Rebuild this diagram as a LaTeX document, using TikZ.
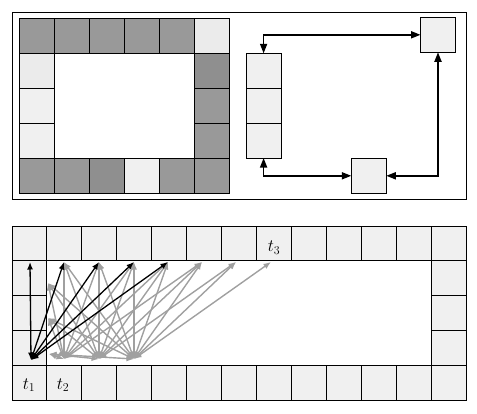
\documentclass[tikz,border=0pt]{standalone}
\usetikzlibrary{arrows.meta}
\definecolor{gA}{RGB}{153,153,153}
\definecolor{gB}{RGB}{143,143,143}
\definecolor{lA}{RGB}{235,235,235}
\definecolor{lB}{RGB}{240,240,240}
\definecolor{arrgray}{RGB}{160,160,160}
\begin{document}
\begin{tikzpicture}[x=1pt,y=-1pt,
  cell/.style={draw=black, line width=0.9pt, minimum size=34.92pt, inner sep=0pt, outer sep=0pt, fill=lB},
  frame/.style={draw=black, line width=0.9pt},
  bigarrow/.style={line width=1.7pt, {Triangle[length=9.5pt,width=7pt]}-{Triangle[length=9.5pt,width=7pt]}},
  grayarrow/.style={draw=arrgray, line width=1.4pt, {Latex[length=7.5pt,width=6pt]}-{Latex[length=7.5pt,width=6pt]}},
  blackarrow/.style={draw=black, line width=1.3pt, {Latex[length=7.5pt,width=6pt]}-{Latex[length=7.5pt,width=6pt]}},
  lab/.style={font=\LARGE, inner sep=0pt}]
\useasboundingbox (0,0) rectangle (477,413);
% ---------- top panel ----------
\draw[frame] (12,12) rectangle (466,199);
\foreach \c/\r/\f in {0/0/gA,1/0/gA,2/0/gA,3/0/gA,4/0/gA,5/0/lA,
                      0/1/lA,0/2/lB,0/3/lB,5/1/gB,5/2/gA,5/3/gA,
                      0/4/gA,1/4/gA,2/4/gB,3/4/lB,4/4/gA,5/4/gA}
  \node[cell,fill=\f] (A\c\r) at ({19.5+(\c+0.5)*34.92},{18.5+(\r+0.5)*34.92}) {};
\node[cell] (S1) at (263.6,70.8) {};
\node[cell] (S2) at (263.6,105.7) {};
\node[cell] (S3) at (263.6,140.6) {};
\node[cell] (TR) at (438,34.8) {};
\node[cell] (BB) at (368.8,175.8) {};
\draw[bigarrow] (S1.north) |- (TR.west);
\draw[bigarrow] (S3.south) |- (BB.west);
\draw[bigarrow] (BB.east) -| (TR.south);
% ---------- bottom panel ----------
\foreach \c in {0,...,12} {
  \node[cell] (Bt\c) at ({12+(\c+0.5)*34.92},{226+0.5*34.92}) {};
  \node[cell] (Bb\c) at ({12+(\c+0.5)*34.92},{226+4.5*34.92}) {};
}
\foreach \r in {1,2,3} {
  \node[cell] (Bl\r) at ({12+0.5*34.92},{226+(\r+0.5)*34.92}) {};
  \node[cell] (Br\r) at ({12+12.5*34.92},{226+(\r+0.5)*34.92}) {};
}
\node[lab] (t1) at (29,385) {$t_1$};
\node[lab] (t2) at (63,385) {$t_2$};
\node[lab] (t3) at (274,247.5) {$t_3$};
% arrow end points
\coordinate (s0) at (31,360);
\coordinate (s1) at (64,359);
\coordinate (s2) at (99,359);
\coordinate (s3) at (134,359);
\coordinate (T0) at (30,262);
\coordinate (T1) at (64,262);
\coordinate (T2) at (99,262);
\coordinate (T3) at (134,262);
\coordinate (T4) at (168,262);
\coordinate (T5) at (202,262);
\coordinate (T6) at (236,262);
\coordinate (T7) at (271,262);
\coordinate (L1) at (48,283);
\coordinate (L2) at (48,318);
\coordinate (L3) at (49,354);
\foreach \k/\n in {1/5,2/6,3/7} {
  \foreach \j in {1,...,\n} \draw[grayarrow] (s\k) -- (T\j);
  \foreach \i in {1,2,3} \draw[grayarrow] (s\k) -- (L\i);
}
\foreach \j in {0,...,4} \draw[blackarrow] (s0) -- (T\j);
\end{tikzpicture}
\end{document}
